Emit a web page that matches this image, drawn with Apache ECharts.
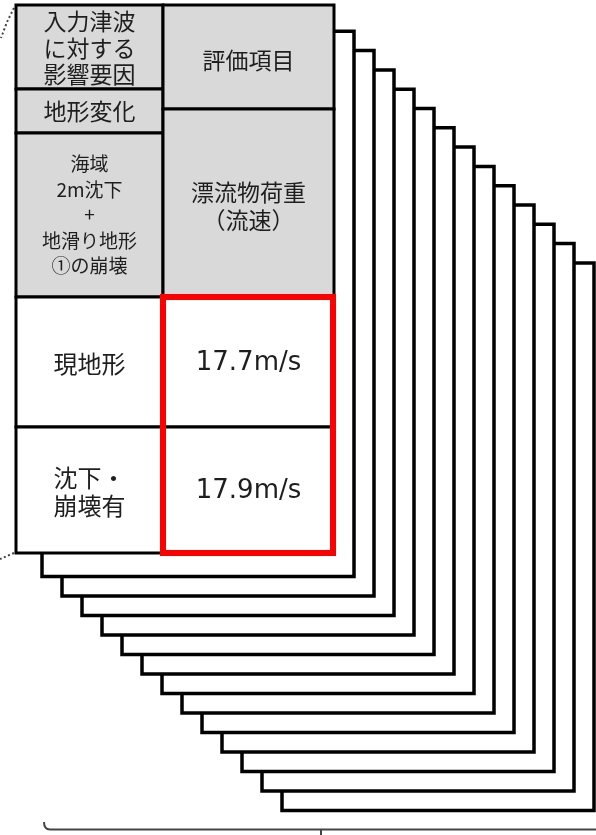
<!DOCTYPE html>
<html><head><meta charset="utf-8">
<script src="https://cdn.jsdelivr.net/npm/echarts@6/dist/echarts.min.js"></script>
<style>html,body{margin:0;padding:0;background:#fff}#c{width:596px;height:835px}</style>
</head><body><div id="c"></div><script>
// ---- data ----
const headerFactors = ['入力津波\nに対する\n影響要因', '地形変化', '海域\n2m沈下\n+\n地滑り地形\n①の崩壊'];
const headerItems = ['評価項目', '漂流物荷重\n（流速）'];
const caseLabels = ['現地形', '沈下・\n崩壊有'];
const flowSpeeds = [17.7, 17.9];
const speedUnit = 'm/s';
const stackedSheets = [1, 2, 3, 4, 5, 6, 7, 8, 9, 10, 11, 12, 13];

// ---- layout ----
const W = 596, H = 835;
const T = { x0: 16, xm: 163, x1: 334, rows: [297, 427, 553],
  leftBreaks: [5, 89, 133, 297], rightBreaks: [5, 109, 297] };
const S = { x0: 22, dx: 20, right0: 334, top0: 12, dyTop: 19.3, bottom0: 557, dyBot: 19.5 };
const JP = '"Noto Sans CJK JP", "Noto Sans", sans-serif';
const GRAY = '#d9d9d9', INK = '#1e1e1e';
const WEIGHT = 'normal';

const factorStyle = [
  { fs: 23, lh: 26.5, dy: 1 },
  { fs: 23, lh: 26, dy: 0 },
  { fs: 19, lh: 25.5, dy: 0 }
];
const itemStyle = [
  { fs: 23, lh: 27, dy: 3 },
  { fs: 23, lh: 28, dy: 3 }
];

const cells = [];
headerFactors.forEach((t, i) => cells.push({ x0: T.x0, x1: T.xm, y0: T.leftBreaks[i], y1: T.leftBreaks[i + 1], text: t, fill: GRAY, fs: factorStyle[i].fs, lh: factorStyle[i].lh, dy: factorStyle[i].dy, ff: JP, fw: WEIGHT }));
headerItems.forEach((t, i) => cells.push({ x0: T.xm, x1: T.x1, y0: T.rightBreaks[i], y1: T.rightBreaks[i + 1], text: t, fill: GRAY, fs: itemStyle[i].fs, lh: itemStyle[i].lh, dy: itemStyle[i].dy, ff: JP, fw: WEIGHT }));
caseLabels.forEach((t, i) => {
  const ya = i === 0 ? T.rows[0] : T.rows[1], yb = i === 0 ? T.rows[1] : T.rows[2];
  cells.push({ x0: T.x0, x1: T.xm, y0: ya, y1: yb, text: t, fill: '#fff', fs: 24, lh: 28, dy: 2, ff: JP, fw: WEIGHT });
  cells.push({ x0: T.xm, x1: T.x1, y0: ya, y1: yb, text: flowSpeeds[i].toFixed(1) + speedUnit, fill: '#fff', fs: 26, lh: 30, dy: 1, ff: '"DejaVu Sans", Verdana, sans-serif', fw: 'normal' });
});

function rectBetween(api, a, b) {
  const p0 = api.coord(a), p1 = api.coord(b);
  return { x: p0[0], y: p0[1], width: p1[0] - p0[0], height: p1[1] - p0[1] };
}

const chart = echarts.init(document.getElementById('c'), null, { renderer: 'canvas' });
chart.setOption({
  animation: false,
  backgroundColor: '#fff',
  grid: { left: 0, right: 0, top: 0, bottom: 0 },
  xAxis: { type: 'value', min: 0, max: W, show: false },
  yAxis: { type: 'value', min: 0, max: H, inverse: true, show: false },
  series: [
    { // stacked sheets behind the front table
      type: 'custom', z: 1,
      data: stackedSheets.slice().reverse().map(k => [k]),
      renderItem(params, api) {
        const k = api.value(0);
        return { type: 'rect',
          shape: rectBetween(api, [S.x0 + S.dx * k, S.top0 + S.dyTop * k], [S.right0 + S.dx * k, S.bottom0 + S.dyBot * k]),
          style: { fill: '#fff', stroke: '#000', lineWidth: 3.5 } };
      }
    },
    { // front table cells
      type: 'custom', z: 2,
      data: cells.map(c => [c.x0, c.y0, c.x1, c.y1]),
      renderItem(params, api) {
        const c = cells[params.dataIndex];
        const r = rectBetween(api, [api.value(0), api.value(1)], [api.value(2), api.value(3)]);
        return { type: 'group', children: [
          { type: 'rect', shape: r, style: { fill: c.fill, stroke: '#000', lineWidth: 3 } },
          { type: 'text', style: { text: c.text, x: r.x + r.width / 2, y: r.y + r.height / 2 + c.dy,
            align: 'center', verticalAlign: 'middle', fontSize: c.fs, fontFamily: c.ff, fontWeight: c.fw, lineHeight: c.lh, fill: INK } }
        ] };
      }
    },
    { // red highlight around the flow-speed values
      type: 'custom', z: 3,
      data: [[T.xm, T.rows[0], T.x1 - 1, T.rows[2]]],
      renderItem(params, api) {
        return { type: 'rect', shape: rectBetween(api, [api.value(0), api.value(1)], [api.value(2), api.value(3)]),
          style: { fill: 'none', stroke: '#ff0000', lineWidth: 6 } };
      }
    },
    { // decorations: dotted leader lines and bottom brace
      type: 'custom', z: 0,
      data: [[0]],
      renderItem(params, api) {
        const c = p => api.coord(p);
        const b0 = c([44, 822]), b1 = c([50, 829.5]), b2 = c([W, 829.5]), t0 = c([321, 829.5]), t1 = c([321, 835]);
        return { type: 'group', children: [
          { type: 'polyline', shape: { points: [c([14, 8]), c([7, 22]), c([1, 38])] }, style: { stroke: '#444', lineWidth: 2, lineDash: [2, 2.5], fill: null } },
          { type: 'polyline', shape: { points: [c([14, 553]), c([0, 559])] }, style: { stroke: '#444', lineWidth: 2, lineDash: [2, 2.5], fill: null } },
          { type: 'path', shape: { pathData: `M${b0[0]},${b0[1]} Q${b0[0]},${b1[1]} ${b1[0]},${b1[1]} L${b2[0]},${b2[1]}` }, style: { stroke: '#444', lineWidth: 2, fill: null } },
          { type: 'line', shape: { x1: t0[0], y1: t0[1], x2: t1[0], y2: t1[1] }, style: { stroke: '#444', lineWidth: 2 } }
        ] };
      }
    }
  ]
});
</script></body></html>
